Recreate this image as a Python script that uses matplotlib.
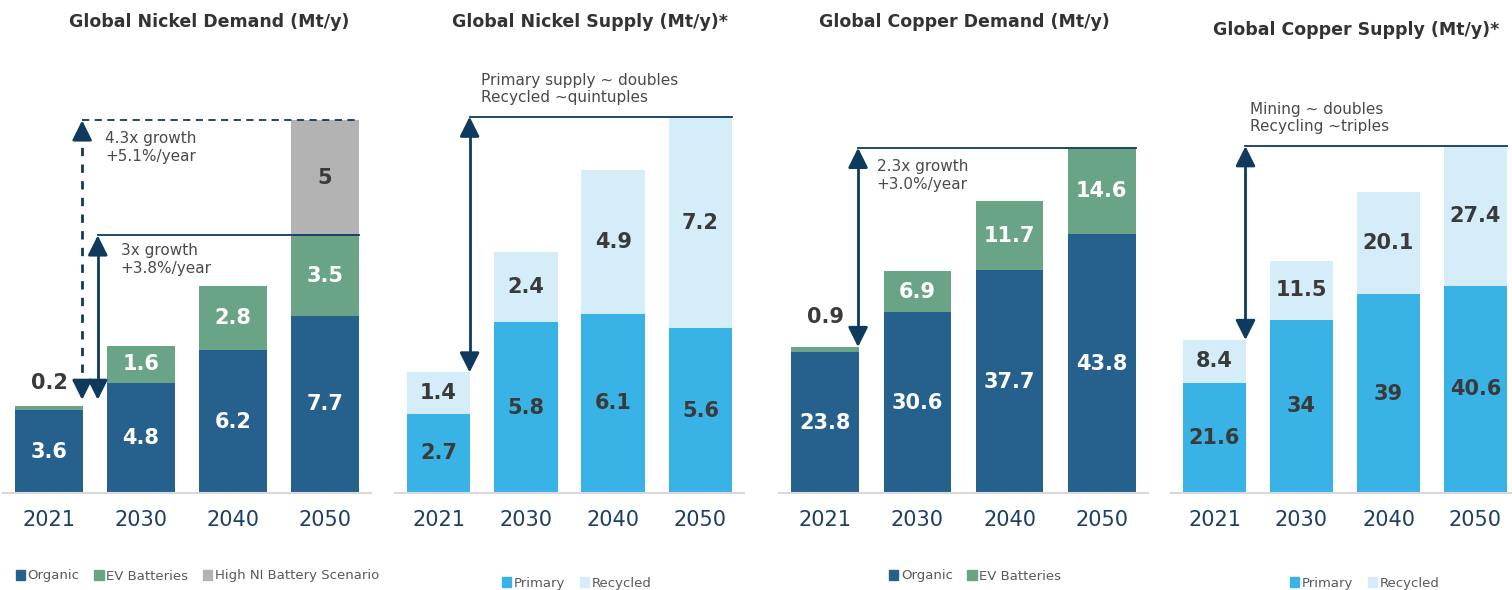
import matplotlib.pyplot as plt
from matplotlib.patches import Patch

# ================= DATA =================
years = ["2021", "2030", "2040", "2050"]

ni_organic = [3.6, 4.8, 6.2, 7.7]
ni_ev = [0.2, 1.6, 2.8, 3.5]
ni_high = [0, 0, 0, 5]

ni_primary = [2.7, 5.8, 6.1, 5.6]
ni_recycled = [1.4, 2.4, 4.9, 7.2]

cu_organic = [23.8, 30.6, 37.7, 43.8]
cu_ev = [0.9, 6.9, 11.7, 14.6]

cu_primary = [21.6, 34, 39, 40.6]
cu_recycled = [8.4, 11.5, 20.1, 27.4]

titles = ["Global Nickel Demand (Mt/y)", "Global Nickel Supply (Mt/y)*",
          "Global Copper Demand (Mt/y)", "Global Copper Supply (Mt/y)*"]
# ========================================

C_ORG = "#25618c"
C_EV = "#6aa487"
C_HIGH = "#b3b3b3"
C_PRIM = "#39b3e5"
C_REC = "#d5edf8"
C_ARROW = "#0e3a5e"
C_TXT = "#3a3a3a"
C_NOTE = "#4a4a4a"
C_YEAR = "#1c3f63"

W, H = 1512, 590
fig = plt.figure(figsize=(W / 100, H / 100), dpi=100)
plt.rcParams['font.family'] = ['DejaVu Sans']

BASE = 493   # baseline in pixels from top
TOP = 90     # axes top in pixels from top
HEAD = "-|>,head_length=0.6,head_width=0.3"


def make_axes(left_px, width_px, ppu):
    ax = fig.add_axes([left_px / W, (H - BASE) / H, width_px / W, (BASE - TOP) / H])
    ax.set_xlim(-0.5, 3.5)
    ax.set_ylim(0, (BASE - TOP) / ppu)
    for s in ["top", "left", "right"]:
        ax.spines[s].set_visible(False)
    ax.spines["bottom"].set_color("#d9d9d9")
    ax.spines["bottom"].set_linewidth(1.5)
    ax.set_yticks([])
    ax.set_xticks(range(len(years)))
    ax.set_xticklabels(years, fontsize=15, color=C_YEAR)
    ax.tick_params(axis="x", length=0, pad=12)
    return ax


def label_seg(ax, x, bottom, val, color):
    ax.text(x, bottom + val / 2, f"{val:g}", ha="center", va="center",
            fontsize=15, fontweight="bold", color=color)


def head(ax, x, y_tip, y_from):
    ax.annotate("", xy=(x, y_tip), xytext=(x, y_from),
                arrowprops=dict(arrowstyle=HEAD, color=C_ARROW, lw=2,
                                mutation_scale=20, shrinkA=0, shrinkB=0),
                annotation_clip=False)


def growth_arrow(ax, x, y0, y1, x_end, dashed=False):
    ls = (0, (3, 3)) if dashed else "-"
    span = y1 - y0
    ax.plot([x, x], [y0 + span * 0.04, y1 - span * 0.04], color=C_ARROW,
            lw=2, linestyle=ls, clip_on=False)
    head(ax, x, y1, y1 - span * 0.05)
    head(ax, x, y0, y0 + span * 0.05)
    ax.plot([x, x_end], [y1, y1], color=C_ARROW, lw=1.3,
            linestyle=(0, (4, 3)) if dashed else "-", clip_on=False)


def add_legend(ax, handles, x_px, y_px):
    ax.legend(handles=handles, loc="center left",
              bbox_to_anchor=(x_px / W, 1 - y_px / H),
              bbox_transform=fig.transFigure, ncol=len(handles), frameon=False,
              fontsize=9.5, labelcolor="#595959", handlelength=0.7,
              handleheight=0.7, handletextpad=0.2, columnspacing=1.1)


bw = 0.73
xs = list(range(len(years)))

# ---------- Panel 1: Nickel demand ----------
ax1 = make_axes(3, 368, 23.0)
ax1.bar(xs, ni_organic, bw, color=C_ORG)
ax1.bar(xs, ni_ev, bw, bottom=ni_organic, color=C_EV)
b2 = [o + e for o, e in zip(ni_organic, ni_ev)]
ax1.bar(xs, ni_high, bw, bottom=b2, color=C_HIGH)
for i in xs:
    label_seg(ax1, i, 0, ni_organic[i], "white")
    if i == 0:
        ax1.text(i, b2[i] + 1.0, f"{ni_ev[i]:g}", ha="center", va="center",
                 fontsize=15, fontweight="bold", color=C_TXT)
    else:
        label_seg(ax1, i, ni_organic[i], ni_ev[i], "white")
    if ni_high[i] > 0:
        label_seg(ax1, i, b2[i], ni_high[i], C_TXT)
tot1 = [a + b for a, b in zip(b2, ni_high)]
growth_arrow(ax1, 0.36, b2[0] + 0.25, tot1[3], 3 + bw / 2, dashed=True)
growth_arrow(ax1, 0.53, b2[0] + 0.25, b2[3], 3 + bw / 2)
ax1.text(0.61, 15.75, "4.3x growth\n+5.1%/year", ha="left", va="top",
         fontsize=11, color=C_NOTE, linespacing=1.25)
ax1.text(0.78, 10.85, "3x growth\n+3.8%/year", ha="left", va="top",
         fontsize=11, color=C_NOTE, linespacing=1.25)
add_legend(ax1, [Patch(color=C_ORG, label="Organic"),
                 Patch(color=C_EV, label="EV Batteries"),
                 Patch(color=C_HIGH, label="High NI Battery Scenario")], 4, 576)

# ---------- Panel 2: Nickel supply ----------
ax2 = make_axes(395, 349, 29.4)
ax2.bar(xs, ni_primary, bw, color=C_PRIM)
ax2.bar(xs, ni_recycled, bw, bottom=ni_primary, color=C_REC)
for i in xs:
    label_seg(ax2, i, 0, ni_primary[i], C_TXT)
    label_seg(ax2, i, ni_primary[i], ni_recycled[i], C_TXT)
tot2 = [a + b for a, b in zip(ni_primary, ni_recycled)]
growth_arrow(ax2, 0.355, tot2[0], tot2[3], 3 + bw / 2)
ax2.text(0.49, 14.3, "Primary supply ~ doubles\nRecycled ~quintuples",
         ha="left", va="top", fontsize=11, color=C_NOTE, linespacing=1.2)
add_legend(ax2, [Patch(color=C_PRIM, label="Primary"),
                 Patch(color=C_REC, label="Recycled")], 490, 583)

# ---------- Panel 3: Copper demand ----------
ax3 = make_axes(779, 369, 5.91)
ax3.bar(xs, cu_organic, bw, color=C_ORG)
ax3.bar(xs, cu_ev, bw, bottom=cu_organic, color=C_EV)
tot3 = [a + b for a, b in zip(cu_organic, cu_ev)]
for i in xs:
    label_seg(ax3, i, 0, cu_organic[i], "white")
    if i == 0:
        ax3.text(i, tot3[i] + 5.0, f"{cu_ev[i]:g}", ha="center", va="center",
                 fontsize=15, fontweight="bold", color=C_TXT)
    else:
        label_seg(ax3, i, cu_organic[i], cu_ev[i], "white")
growth_arrow(ax3, 0.357, tot3[0], tot3[3], 3 + bw / 2)
ax3.text(0.56, 56.5, "2.3x growth\n+3.0%/year", ha="left", va="top",
         fontsize=11, color=C_NOTE, linespacing=1.25)
add_legend(ax3, [Patch(color=C_ORG, label="Organic"),
                 Patch(color=C_EV, label="EV Batteries")], 877, 576)

# ---------- Panel 4: Copper supply ----------
ax4 = make_axes(1171, 348, 5.1)
ax4.bar(xs, cu_primary, bw, color=C_PRIM)
ax4.bar(xs, cu_recycled, bw, bottom=cu_primary, color=C_REC)
for i in xs:
    label_seg(ax4, i, 0, cu_primary[i], C_TXT)
    label_seg(ax4, i, cu_primary[i], cu_recycled[i], C_TXT)
tot4 = [a + b for a, b in zip(cu_primary, cu_recycled)]
growth_arrow(ax4, 0.356, tot4[0], tot4[3], 3 + bw / 2)
ax4.text(0.41, 76.7, "Mining ~ doubles\nRecycling ~triples",
         ha="left", va="top", fontsize=11, color=C_NOTE, linespacing=1.2)
add_legend(ax4, [Patch(color=C_PRIM, label="Primary"),
                 Patch(color=C_REC, label="Recycled")], 1278, 583)

# ---------- Titles ----------
title_pos = [(209, 22), (590, 22), (964, 22), (1356, 30)]
for t, (tx, ty) in zip(titles, title_pos):
    fig.text(tx / W, 1 - ty / H, t, ha="center", va="center",
             fontsize=12.5, fontweight="bold", color="#333333")

fig.savefig("out.png", dpi=100)
